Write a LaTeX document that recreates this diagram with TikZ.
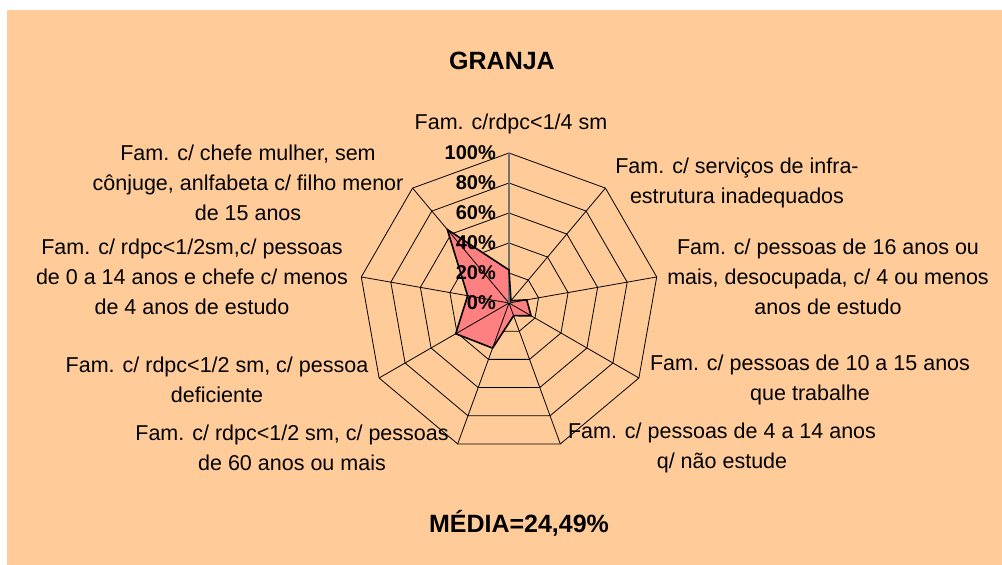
\documentclass[tikz,border=0pt]{standalone}
\usepackage{fontspec}
\setmainfont{Liberation Sans}
\usepackage{xcolor}
\definecolor{fundo}{HTML}{FFCC99}
\definecolor{serie}{HTML}{FF8080}

\begin{document}
\begin{tikzpicture}[
		x=1pt, y=1pt,
		rotulo/.style={font=\fontsize{21.5}{30}\selectfont, align=center},
		titulo/.style={font=\fontsize{25}{30}\selectfont\bfseries},
		escala/.style={font=\fontsize{20}{24}\selectfont\bfseries, anchor=east, inner sep=1pt},
		grade/.style={draw=black, line width=0.8pt},
		eixo/.style={draw=black!55, line width=1.2pt}
	]

	\fill[white] (0,0) rectangle (1002,565);
	\fill[fundo] (7,0) rectangle (1002,555);
	\useasboundingbox (0,0) rectangle (1002,565);

	\node[titulo] (granja) at (502,504) {GRANJA};
	\node[titulo] (media) at (519,42) {MÉDIA=24,49\%};

	\begin{scope}[shift={(509,262)}]
		% aneis da grade
		\foreach \r in {30,60,...,150}
			\draw[grade] (90:\r) \foreach \a in {50,10,...,-230} { -- (\a:\r) } -- cycle;

		\foreach \v [count=\i] in {22,2,12,17,9,32,41,28,64}
			\coordinate (p\i) at ({90-40*(\i-1)}:{1.5*\v});

		\fill[serie] (p1) -- (p2) -- (p3) -- (p4) -- (p5) -- (p6) -- (p7) -- (p8) -- (p9) -- cycle;

		\foreach \i in {2,...,9}
			\draw[grade] (0,0) -- ({90-40*(\i-1)}:150);
		\draw[eixo] (0,0) -- (90:150);

		\draw[line width=1.6pt, line join=miter] (p1) -- (p2) -- (p3) -- (p4) -- (p5) -- (p6) -- (p7) -- (p8) -- (p9) -- cycle;
	\end{scope}

	\foreach \p [count=\k from 0] in {0,20,...,100}
		\node[escala] (pct\p) at (497,{262+30*\k}) {\p\%};

	\node[rotulo] (cat1) at (511,441) {Fam. c/rdpc<1/4 sm};
	\node[rotulo] (cat2) at (737,382) {Fam. c/ serviços de infra-\\estrutura inadequados};
	\node[rotulo] (cat3) at (828,288) {Fam. c/ pessoas de 16 anos ou\\mais, desocupada, c/ 4 ou menos\\anos de estudo};
	\node[rotulo] (cat4) at (810,185) {Fam. c/ pessoas de 10 a 15 anos\\que trabalhe};
	\node[rotulo] (cat5) at (722,117) {Fam. c/ pessoas de 4 a 14 anos\\q/ não estude};
	\node[rotulo] (cat6) at (292,117) {Fam. c/ rdpc<1/2 sm, c/ pessoas\\de 60 anos ou mais};
	\node[rotulo] (cat7) at (217,185) {Fam. c/ rdpc<1/2 sm, c/ pessoa\\deficiente};
	\node[rotulo] (cat8) at (192,288) {Fam. c/ rdpc<1/2sm,c/ pessoas\\de 0 a 14 anos e chefe c/ menos\\de 4 anos de estudo};
	\node[rotulo] (cat9) at (248,382) {Fam. c/ chefe mulher, sem\\cônjuge, anlfabeta c/ filho menor\\de 15 anos};

\end{tikzpicture}
\end{document}
